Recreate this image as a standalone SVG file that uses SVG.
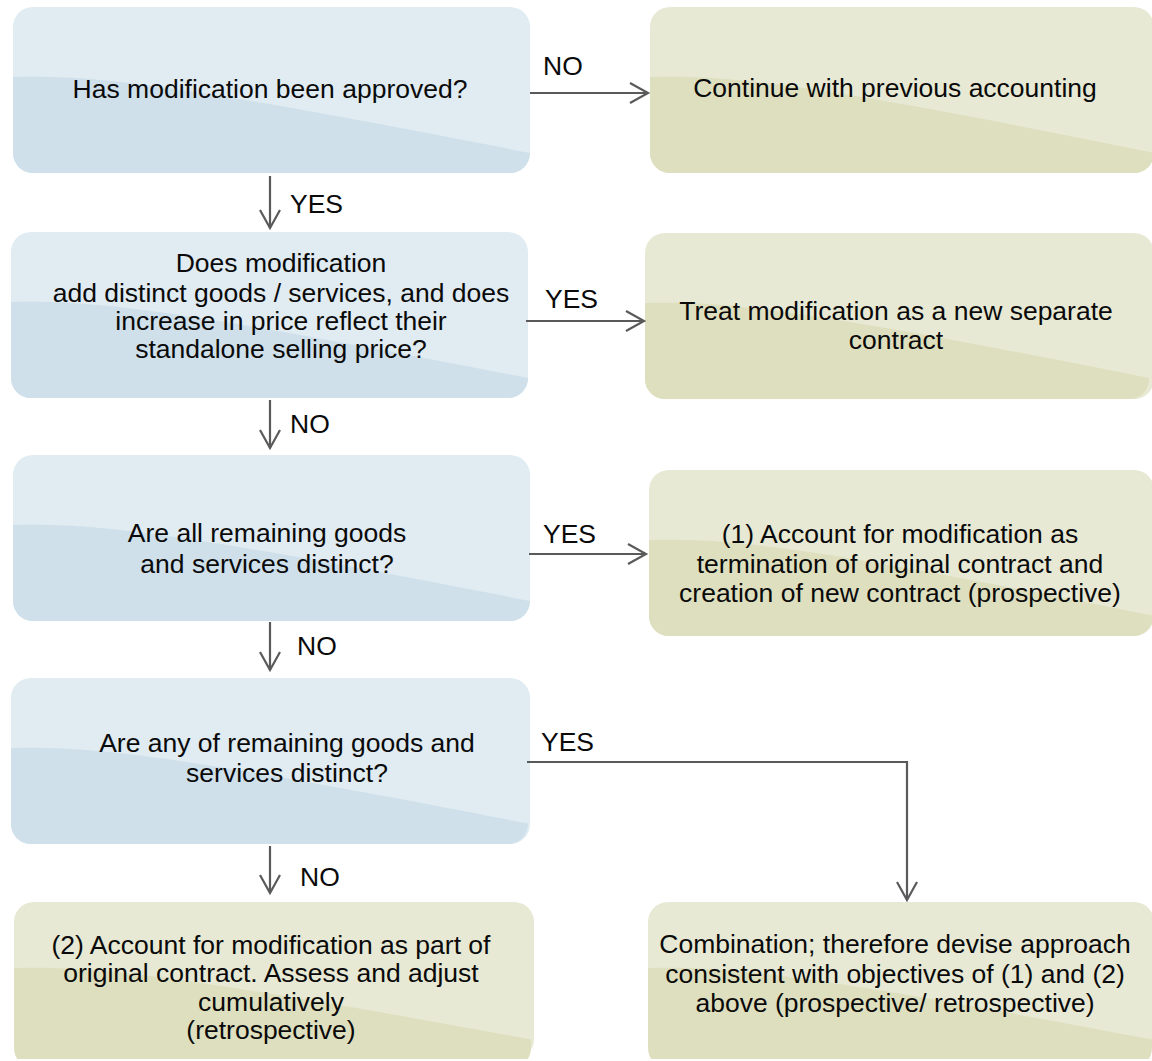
<svg xmlns="http://www.w3.org/2000/svg" width="1152" height="1061" viewBox="0 0 1152 1061">
<style>
text{font-family:"Liberation Sans",Arial,sans-serif;font-size:26.5px;fill:#0a0a0a}
.t{text-anchor:middle}
.blue .bg{fill:#E0EBF2}
.blue .wv{fill:#CFE0EA}
.green .bg{fill:#E7E9D4}
.green .wv{fill:#DEDFBE}
.conn path{fill:none;stroke:#5a5a5a;stroke-width:2.2}
</style>
<defs>
<marker id="ah" markerUnits="userSpaceOnUse" markerWidth="24" markerHeight="26" refX="19" refY="11" orient="auto" overflow="visible">
<path d="M1,1 L19,11 L1,21" fill="none" stroke="#5a5a5a" stroke-width="2.2"/>
</marker>
<clipPath id="cl"><rect width="517" height="166" rx="20"/></clipPath>
<clipPath id="cr"><rect width="504" height="166" rx="20"/></clipPath>
</defs>

<g id="n1" class="blue" transform="translate(13,7)">
<rect class="bg" width="517" height="166" rx="20"/>
<path class="wv" clip-path="url(#cl)" d="M0,70 C80,68 160,76 517,146 L517,166 L0,166 Z"/>
<text class="t" x="257" y="91">Has modification been approved?</text>
</g>

<g id="n2" class="green" transform="translate(650,7)">
<rect class="bg" width="504" height="166" rx="20"/>
<path class="wv" clip-path="url(#cr)" d="M0,70 C80,68 160,76 504,146 L504,166 L0,166 Z"/>
<text class="t" x="245" y="90">Continue with previous accounting</text>
</g>

<g id="n3" class="blue" transform="translate(11,232)">
<rect class="bg" width="517" height="166" rx="20"/>
<path class="wv" clip-path="url(#cl)" d="M0,70 C80,68 160,76 517,146 L517,166 L0,166 Z"/>
<text class="t" x="270" y="40">Does modification</text>
<text class="t" x="270" y="70">add distinct goods / services, and does</text>
<text class="t" x="270" y="98">increase in price reflect their</text>
<text class="t" x="270" y="126">standalone selling price?</text>
</g>

<g id="n4" class="green" transform="translate(645,233)">
<rect class="bg" width="509" height="166" rx="20"/>
<path class="wv" clip-path="url(#cr)" d="M0,70 C80,68 160,76 509,146 L509,166 L0,166 Z"/>
<text class="t" x="251" y="87">Treat modification as a new separate</text>
<text class="t" x="251" y="116">contract</text>
</g>

<g id="n5" class="blue" transform="translate(13,455)">
<rect class="bg" width="517" height="166" rx="20"/>
<path class="wv" clip-path="url(#cl)" d="M0,70 C80,68 160,76 517,146 L517,166 L0,166 Z"/>
<text class="t" x="254" y="87">Are all remaining goods</text>
<text class="t" x="254" y="118">and services distinct?</text>
</g>

<g id="n6" class="green" transform="translate(649,470)">
<rect class="bg" width="505" height="166" rx="20"/>
<path class="wv" clip-path="url(#cr)" d="M0,70 C80,68 160,76 505,146 L505,166 L0,166 Z"/>
<text class="t" x="251" y="73">(1) Account for modification as</text>
<text class="t" x="251" y="103">termination of original contract and</text>
<text class="t" x="251" y="132">creation of new contract (prospective)</text>
</g>

<g id="n7" class="blue" transform="translate(11,678)">
<rect class="bg" width="519" height="166" rx="20"/>
<path class="wv" clip-path="url(#cl)" d="M0,70 C80,68 160,76 519,146 L519,166 L0,166 Z"/>
<text class="t" x="276" y="74">Are any of remaining goods and</text>
<text class="t" x="276" y="104">services distinct?</text>
</g>

<g id="n8" class="green" transform="translate(14,902)">
<rect class="bg" width="520" height="157" rx="20"/>
<path class="wv" clip-path="url(#cl)" d="M0,66 C80,64 160,72 520,138 L520,157 L0,157 Z"/>
<text class="t" x="257" y="52">(2) Account for modification as part of</text>
<text class="t" x="257" y="80">original contract. Assess and adjust</text>
<text class="t" x="257" y="109">cumulatively</text>
<text class="t" x="257" y="137">(retrospective)</text>
</g>

<g id="n9" class="green" transform="translate(648,902)">
<rect class="bg" width="506" height="157" rx="20"/>
<path class="wv" clip-path="url(#cr)" d="M0,66 C80,64 160,72 506,138 L506,157 L0,157 Z"/>
<text class="t" x="247" y="51">Combination; therefore devise approach</text>
<text class="t" x="247" y="81">consistent with objectives of (1) and (2)</text>
<text class="t" x="247" y="110">above (prospective/ retrospective)</text>
</g>

<g id="connectors" class="conn">
<path d="M530,93 H648" marker-end="url(#ah)"/>
<path d="M270,176 V228" marker-end="url(#ah)"/>
<path d="M526,321 H644" marker-end="url(#ah)"/>
<path d="M270,400 V448" marker-end="url(#ah)"/>
<path d="M529,554 H646" marker-end="url(#ah)"/>
<path d="M270,622 V670" marker-end="url(#ah)"/>
<path d="M527,762 H907 V900" marker-end="url(#ah)"/>
<path d="M270,846 V893" marker-end="url(#ah)"/>
</g>

<g id="labels">
<text x="543" y="75">NO</text>
<text x="290" y="213">YES</text>
<text x="545" y="308">YES</text>
<text x="290" y="433">NO</text>
<text x="543" y="543">YES</text>
<text x="297" y="655">NO</text>
<text x="541" y="751">YES</text>
<text x="300" y="886">NO</text>
</g>
</svg>
